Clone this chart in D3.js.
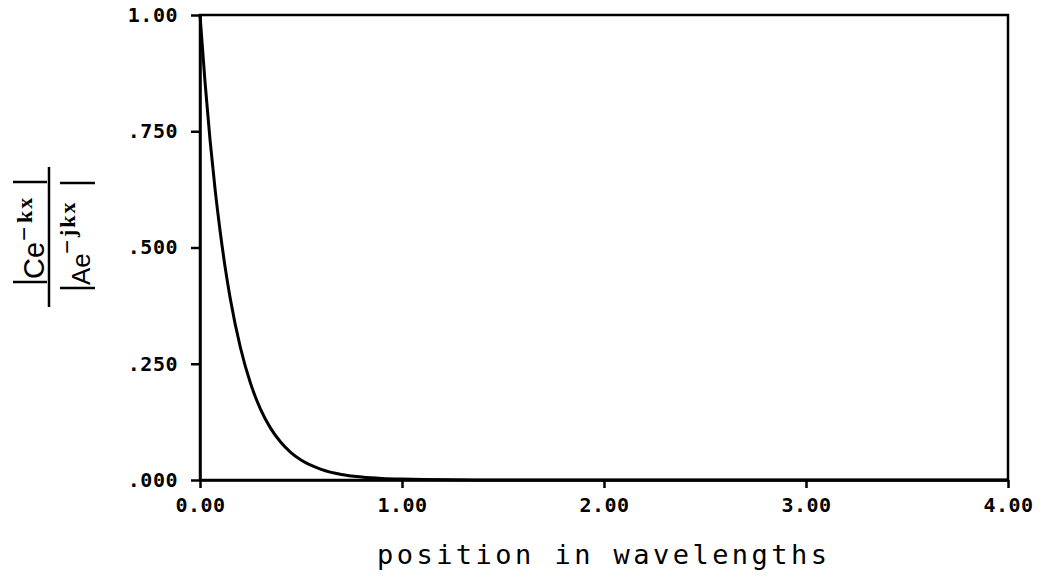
<!DOCTYPE html>
<html>
<head>
<meta charset="utf-8">
<script src="https://cdn.jsdelivr.net/npm/d3@7/dist/d3.min.js"></script>
<style>
  body { margin: 0; background: #fff; }
  svg { display: block; }
</style>
</head>
<body>
<div id="chart"></div>
<script>
// values (position in wavelengths, amplitude ratio)
var positions = [0, 0.025, 0.05, 0.075, 0.1, 0.125, 0.15, 0.2, 0.25, 0.3, 0.35, 0.4, 0.45, 0.5,
                 0.6, 0.7, 0.8, 0.9, 1.0, 1.25, 1.5, 2.0, 2.5, 3.0, 3.5, 4.0];
var ratios = [1.0, 0.855, 0.73, 0.624, 0.534, 0.456, 0.39, 0.285, 0.208, 0.152, 0.111, 0.081, 0.059, 0.043,
              0.023, 0.012, 0.0066, 0.0035, 0.0019, 0.0004, 0.0001, 0, 0, 0, 0, 0];

var xTicks = [0, 1, 2, 3, 4];
var xTickLabels = ["0.00", "1.00", "2.00", "3.00", "4.00"];
var yTicks = [0, 0.25, 0.5, 0.75, 1];
var yTickLabels = [".000", ".250", ".500", ".750", "1.00"];
var xTitle = "position in wavelengths";

var margin = {top: 15, right: 34, bottom: 98, left: 200},
    width = 1042 - margin.left - margin.right,
    height = 578 - margin.top - margin.bottom;

var svg = d3.select("#chart")
  .append("svg")
  .attr("width", 1042)
  .attr("height", 578)
  .append("g")
  .attr("transform", "translate(" + margin.left + "," + margin.top + ")");

var x = d3.scaleLinear().domain([0, 4]).range([0, width]);
var y = d3.scaleLinear().domain([0, 1]).range([height, 0]);

// frame (top and right side)
svg.append("rect")
  .attr("x", 0)
  .attr("y", 0)
  .attr("width", width)
  .attr("height", height)
  .attr("fill", "none")
  .attr("stroke", "#000")
  .attr("stroke-width", 2.5);

// x axis
var xAxis = svg.append("g")
  .attr("transform", "translate(0," + height + ")")
  .call(d3.axisBottom(x)
    .tickValues(xTicks)
    .tickSize(8)
    .tickPadding(10)
    .tickSizeOuter(0)
    .tickFormat(function(d, i) { return xTickLabels[i]; }));

// y axis
var yAxis = svg.append("g")
  .call(d3.axisLeft(y)
    .tickValues(yTicks)
    .tickSize(9)
    .tickPadding(13)
    .tickSizeOuter(0)
    .tickFormat(function(d, i) { return yTickLabels[i]; }));

[xAxis, yAxis].forEach(function(ax) {
  ax.select(".domain").attr("stroke", "#000").attr("stroke-width", 2.5);
  ax.selectAll(".tick line").attr("stroke", "#000").attr("stroke-width", 2.5);
  ax.selectAll(".tick text")
    .attr("fill", "#000")
    .style("font-family", "'DejaVu Sans Mono', monospace")
    .style("font-weight", "bold")
    .style("font-size", "20px")
    .style("letter-spacing", "0.5px");
});

// the decaying curve
var line = d3.line()
  .x(function(d, i) { return x(positions[i]); })
  .y(function(d) { return y(d); })
  .curve(d3.curveMonotoneX);

svg.append("path")
  .datum(ratios)
  .attr("d", line)
  .attr("fill", "none")
  .attr("stroke", "#000")
  .attr("stroke-width", 3);

// x title
svg.append("text")
  .attr("x", 177)
  .attr("y", height + 84)
  .attr("textLength", 450)
  .attr("lengthAdjust", "spacing")
  .style("font-family", "'DejaVu Sans Mono', monospace")
  .style("font-size", "27px")
  .text(xTitle);

// y title: |Ce^-kx| over |Ae^-jkx|, turned on its side
var yl = d3.select("svg").append("g")
  .attr("transform", "translate(49,237) rotate(-90)");

yl.append("line")
  .attr("x1", -70).attr("x2", 70)
  .attr("y1", 0).attr("y2", 0)
  .attr("stroke", "#000").attr("stroke-width", 2.5);

// absolute value bars
[[-45, -36, -2], [55, -36, -2], [-51, 11, 46], [54, 11, 46]].forEach(function(b) {
  yl.append("line")
    .attr("x1", b[0]).attr("x2", b[0])
    .attr("y1", b[1]).attr("y2", b[2])
    .attr("stroke", "#000").attr("stroke-width", 2.5);
});

function yTitlePart(tx, ty, txt, size, serif) {
  yl.append("text")
    .attr("x", tx)
    .attr("y", ty)
    .style("font-family", serif ? "'Liberation Serif', serif" : "'Liberation Sans', sans-serif")
    .style("font-weight", serif ? "bold" : "normal")
    .style("font-size", size + "px")
    .style("letter-spacing", serif ? "2px" : "0px")
    .text(txt);
}

yTitlePart(-42, -5, "Ce", 29, false);
yTitlePart(-4, -17, "\u2212", 24, false);
yTitlePart(14, -17, "kx", 22, true);

yTitlePart(-48, 41, "Ae", 26, false);
yTitlePart(-17, 26, "\u2212", 24, false);
yTitlePart(0, 26, "jkx", 22, true);
</script>
</body>
</html>
